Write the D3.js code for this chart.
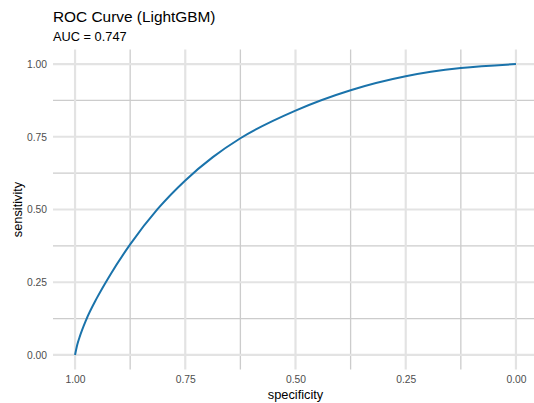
<!DOCTYPE html>
<html>
<head>
<meta charset="utf-8">
<script src="https://cdn.jsdelivr.net/npm/d3@7"></script>
<style>
  body { margin: 0; background: #fff; }
  text { font-family: "Liberation Sans", Arial, sans-serif; }
</style>
</head>
<body>
<div id="chart"></div>
<script>
  // ROC points (specificity, sensitivity)
  const specificity = [1.0, 0.995, 0.99, 0.975, 0.95, 0.92, 0.875, 0.8125, 0.75, 0.6875, 0.625, 0.5, 0.375, 0.25, 0.125, 0.0];
  const sensitivity = [0.0, 0.035, 0.06, 0.12, 0.197, 0.276, 0.38, 0.502, 0.60, 0.68, 0.745, 0.84, 0.91, 0.958, 0.986, 1.0];
  const majorTicks = [0, 0.25, 0.5, 0.75, 1];
  const minorTicks = [0.125, 0.375, 0.625, 0.875];

  const width = 534, height = 403;
  const margin = { top: 49.5, right: -4, bottom: 33.5, left: 53 };
  const innerW = width - margin.left - margin.right;
  const innerH = height - margin.top - margin.bottom;

  const svg = d3.select("#chart").append("svg")
      .attr("width", width)
      .attr("height", height);

  // Title and subtitle (aligned with panel)
  svg.append("text").attr("x", margin.left).attr("y", 22)
      .style("font-size", "15.4px").attr("fill", "#000")
      .text("ROC Curve (LightGBM)");
  svg.append("text").attr("x", margin.left).attr("y", 41)
      .style("font-size", "12.8px").attr("fill", "#000")
      .text("AUC = 0.747");

  const g = svg.append("g")
      .attr("transform", `translate(${margin.left}, ${margin.top})`);

  // reversed x (specificity 1 -> 0), 5% expansion
  const x = d3.scaleLinear().domain([1.05, -0.05]).range([0, innerW]);
  const y = d3.scaleLinear().domain([-0.05, 1.05]).range([innerH, 0]);

  // minor grid
  g.selectAll(".minor-x").data(minorTicks).enter().append("line")
      .attr("x1", d => x(d)).attr("x2", d => x(d))
      .attr("y1", 0).attr("y2", innerH)
      .attr("stroke", "#cccccc").attr("stroke-width", 1.3);
  g.selectAll(".minor-y").data(minorTicks).enter().append("line")
      .attr("y1", d => y(d)).attr("y2", d => y(d))
      .attr("x1", 0).attr("x2", innerW)
      .attr("stroke", "#cccccc").attr("stroke-width", 1.3);

  // major grid
  g.selectAll(".major-x").data(majorTicks).enter().append("line")
      .attr("x1", d => x(d)).attr("x2", d => x(d))
      .attr("y1", 0).attr("y2", innerH)
      .attr("stroke", "#e3e3e3").attr("stroke-width", 2.2);
  g.selectAll(".major-y").data(majorTicks).enter().append("line")
      .attr("y1", d => y(d)).attr("y2", d => y(d))
      .attr("x1", 0).attr("x2", innerW)
      .attr("stroke", "#e3e3e3").attr("stroke-width", 2.2);

  // axes (labels only)
  const xAxis = g.append("g")
      .attr("transform", `translate(0, ${innerH})`)
      .call(d3.axisBottom(x).tickValues(majorTicks).tickFormat(d3.format(".2f")).tickSize(0).tickPadding(6));
  const yAxis = g.append("g")
      .call(d3.axisLeft(y).tickValues(majorTicks).tickFormat(d3.format(".2f")).tickSize(0).tickPadding(6));
  [xAxis, yAxis].forEach(a => {
    a.select(".domain").remove();
    a.selectAll("text").style("font-size", "10.3px").attr("fill", "#4d4d4d")
        .style("font-family", "Liberation Sans, Arial, sans-serif");
  });

  // ROC curve
  const pts = specificity.map((s, i) => [s, sensitivity[i]]);
  g.append("path")
      .datum(pts)
      .attr("fill", "none")
      .attr("stroke", "#1a73ab")
      .attr("stroke-width", 2)
      .attr("d", d3.line().x(d => x(d[0])).y(d => y(d[1])).curve(d3.curveMonotoneX));

  // axis titles
  svg.append("text")
      .attr("x", margin.left + x(0.5)).attr("y", 399)
      .attr("text-anchor", "middle")
      .style("font-size", "12.8px")
      .text("specificity");
  svg.append("text")
      .attr("transform", `translate(22, ${margin.top + y(0.5)}) rotate(-90)`)
      .attr("text-anchor", "middle")
      .style("font-size", "12.8px")
      .text("sensitivity");
</script>
</body>
</html>
